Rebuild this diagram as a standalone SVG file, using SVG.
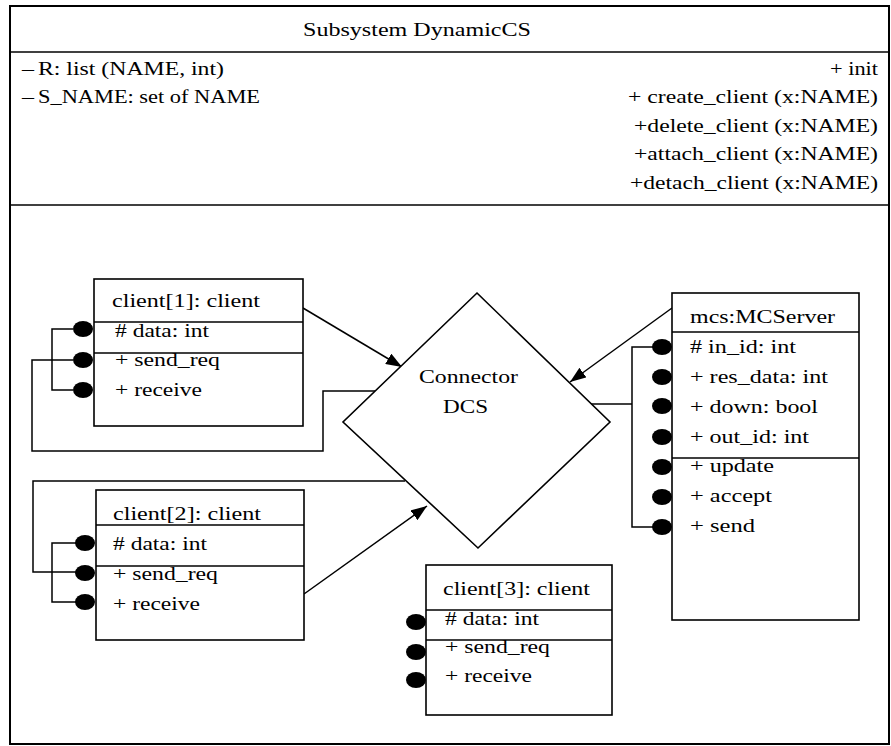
<svg xmlns="http://www.w3.org/2000/svg" width="891" height="746" viewBox="0 0 891 746">
  <style>
    text { font-family: "Liberation Serif", "Times New Roman", serif; font-size: 18px; fill: #000; }
    .frame { fill: none; stroke: #000; stroke-width: 2; }
    .box { fill: #fff; stroke: #000; stroke-width: 1.6; }
    .sep { stroke: #000; stroke-width: 1.6; }
    .wire { fill: none; stroke: #000; stroke-width: 1.5; }
    .port { fill: #000; }
    .end { text-anchor: end; }
    .mid { text-anchor: middle; }
  </style>
  <defs>
    <marker id="arrow" viewBox="0 0 16 12" refX="16" refY="6" markerWidth="16" markerHeight="12" markerUnits="userSpaceOnUse" orient="auto">
      <path d="M0,0 L16,6 L0,12 Z" fill="#000"/>
    </marker>
  </defs>

  <rect width="891" height="746" fill="#fff"/>

  <!-- subsystem frame with its title, attribute and operation compartments -->
  <g id="subsystem">
    <rect class="frame" x="10" y="6" width="879" height="738"/>
    <line class="sep" x1="10" y1="52" x2="889" y2="52"/>
    <line class="sep" x1="10" y1="205" x2="889" y2="205"/>
    <text class="mid" x="417" y="36" textLength="228" lengthAdjust="spacingAndGlyphs">Subsystem DynamicCS</text>
    <text x="22" y="75" textLength="12" lengthAdjust="spacingAndGlyphs">–</text>
    <text x="38" y="75" textLength="186" lengthAdjust="spacingAndGlyphs">R: list (NAME, int)</text>
    <text x="22" y="103" textLength="12" lengthAdjust="spacingAndGlyphs">–</text>
    <text x="38" y="103" textLength="222" lengthAdjust="spacingAndGlyphs">S_NAME: set of NAME</text>
    <text class="end" x="878" y="75" textLength="48" lengthAdjust="spacingAndGlyphs">+ init</text>
    <text class="end" x="878" y="103" textLength="250" lengthAdjust="spacingAndGlyphs">+ create_client (x:NAME)</text>
    <text class="end" x="878" y="132" textLength="244" lengthAdjust="spacingAndGlyphs">+delete_client (x:NAME)</text>
    <text class="end" x="878" y="160" textLength="244" lengthAdjust="spacingAndGlyphs">+attach_client (x:NAME)</text>
    <text class="end" x="878" y="189" textLength="248" lengthAdjust="spacingAndGlyphs">+detach_client (x:NAME)</text>
  </g>

  <!-- connectors -->
  <g id="connectors">
    <!-- client[1] ports bus and link to DCS -->
    <polyline class="wire" points="73,329 52,329 52,390 73,390"/>
    <polyline class="wire" points="73,360 32,360 32,451 323,451 323,391 385,391"/>
    <line class="wire" x1="303" y1="308" x2="402" y2="367" marker-end="url(#arrow)"/>
    <!-- client[2] ports bus and link to DCS -->
    <polyline class="wire" points="76,543 52,543 52,602 76,602"/>
    <polyline class="wire" points="76,572 33,572 33,481 405,481"/>
    <line class="wire" x1="304" y1="594" x2="427" y2="506" marker-end="url(#arrow)"/>
    <!-- mcs ports bus and link to DCS -->
    <polyline class="wire" points="653,347 632,347 632,527 653,527"/>
    <line class="wire" x1="591" y1="404" x2="632" y2="404"/>
    <line class="wire" x1="672" y1="308" x2="570" y2="382" marker-end="url(#arrow)"/>
  </g>

  <!-- connector DCS -->
  <g id="dcs">
    <polygon class="box" points="477,293 610,422 478,548 343,422"/>
    <text x="419" y="383" textLength="99" lengthAdjust="spacingAndGlyphs">Connector</text>
    <text x="443" y="413" textLength="45" lengthAdjust="spacingAndGlyphs">DCS</text>
  </g>

  <!-- client[1] -->
  <g id="client1">
    <rect class="box" x="94" y="279" width="209" height="147"/>
    <line class="sep" x1="94" y1="322" x2="303" y2="322"/>
    <line class="sep" x1="94" y1="353" x2="303" y2="353"/>
    <text x="112" y="307" textLength="148" lengthAdjust="spacingAndGlyphs">client[1]: client</text>
    <text x="115" y="337" textLength="94" lengthAdjust="spacingAndGlyphs"># data: int</text>
    <text x="115" y="366" textLength="105" lengthAdjust="spacingAndGlyphs">+ send_req</text>
    <text x="115" y="396" textLength="87" lengthAdjust="spacingAndGlyphs">+ receive</text>
    <ellipse class="port" cx="83" cy="329" rx="10" ry="8"/>
    <ellipse class="port" cx="83" cy="360" rx="10" ry="8"/>
    <ellipse class="port" cx="83" cy="390" rx="10" ry="8"/>
  </g>

  <!-- client[2] -->
  <g id="client2">
    <rect class="box" x="96" y="490" width="208" height="150"/>
    <line class="sep" x1="96" y1="525" x2="304" y2="525"/>
    <line class="sep" x1="96" y1="566" x2="304" y2="566"/>
    <text x="113" y="520" textLength="148" lengthAdjust="spacingAndGlyphs">client[2]: client</text>
    <text x="113" y="550" textLength="94" lengthAdjust="spacingAndGlyphs"># data: int</text>
    <text x="113" y="580" textLength="105" lengthAdjust="spacingAndGlyphs">+ send_req</text>
    <text x="113" y="610" textLength="87" lengthAdjust="spacingAndGlyphs">+ receive</text>
    <ellipse class="port" cx="85" cy="543" rx="10" ry="8"/>
    <ellipse class="port" cx="85" cy="573" rx="10" ry="8"/>
    <ellipse class="port" cx="85" cy="602" rx="10" ry="8"/>
  </g>

  <!-- client[3] -->
  <g id="client3">
    <rect class="box" x="426" y="565" width="186" height="150"/>
    <line class="sep" x1="426" y1="610" x2="612" y2="610"/>
    <line class="sep" x1="426" y1="640" x2="612" y2="640"/>
    <text x="443" y="595" textLength="147" lengthAdjust="spacingAndGlyphs">client[3]: client</text>
    <text x="445" y="625" textLength="94" lengthAdjust="spacingAndGlyphs"># data: int</text>
    <text x="445" y="653" textLength="105" lengthAdjust="spacingAndGlyphs">+ send_req</text>
    <text x="445" y="682" textLength="87" lengthAdjust="spacingAndGlyphs">+ receive</text>
    <ellipse class="port" cx="416" cy="622" rx="10" ry="8"/>
    <ellipse class="port" cx="416" cy="652" rx="10" ry="8"/>
    <ellipse class="port" cx="416" cy="680" rx="10" ry="8"/>
  </g>

  <!-- mcs:MCServer -->
  <g id="mcs">
    <rect class="box" x="672" y="293" width="187" height="327"/>
    <line class="sep" x1="672" y1="332" x2="859" y2="332"/>
    <line class="sep" x1="672" y1="458" x2="859" y2="458"/>
    <text x="690" y="323" textLength="145" lengthAdjust="spacingAndGlyphs">mcs:MCServer</text>
    <text x="690" y="353" textLength="106" lengthAdjust="spacingAndGlyphs"># in_id: int</text>
    <text x="690" y="383" textLength="138" lengthAdjust="spacingAndGlyphs">+ res_data: int</text>
    <text x="690" y="413" textLength="128" lengthAdjust="spacingAndGlyphs">+ down: bool</text>
    <text x="690" y="443" textLength="119" lengthAdjust="spacingAndGlyphs">+ out_id: int</text>
    <text x="690" y="472" textLength="84" lengthAdjust="spacingAndGlyphs">+ update</text>
    <text x="690" y="502" textLength="82" lengthAdjust="spacingAndGlyphs">+ accept</text>
    <text x="690" y="532" textLength="65" lengthAdjust="spacingAndGlyphs">+ send</text>
    <ellipse class="port" cx="662" cy="347" rx="10" ry="8"/>
    <ellipse class="port" cx="662" cy="377" rx="10" ry="8"/>
    <ellipse class="port" cx="662" cy="406" rx="10" ry="8"/>
    <ellipse class="port" cx="662" cy="437" rx="10" ry="8"/>
    <ellipse class="port" cx="662" cy="467" rx="10" ry="8"/>
    <ellipse class="port" cx="662" cy="497" rx="10" ry="8"/>
    <ellipse class="port" cx="662" cy="527" rx="10" ry="8"/>
  </g>
</svg>
